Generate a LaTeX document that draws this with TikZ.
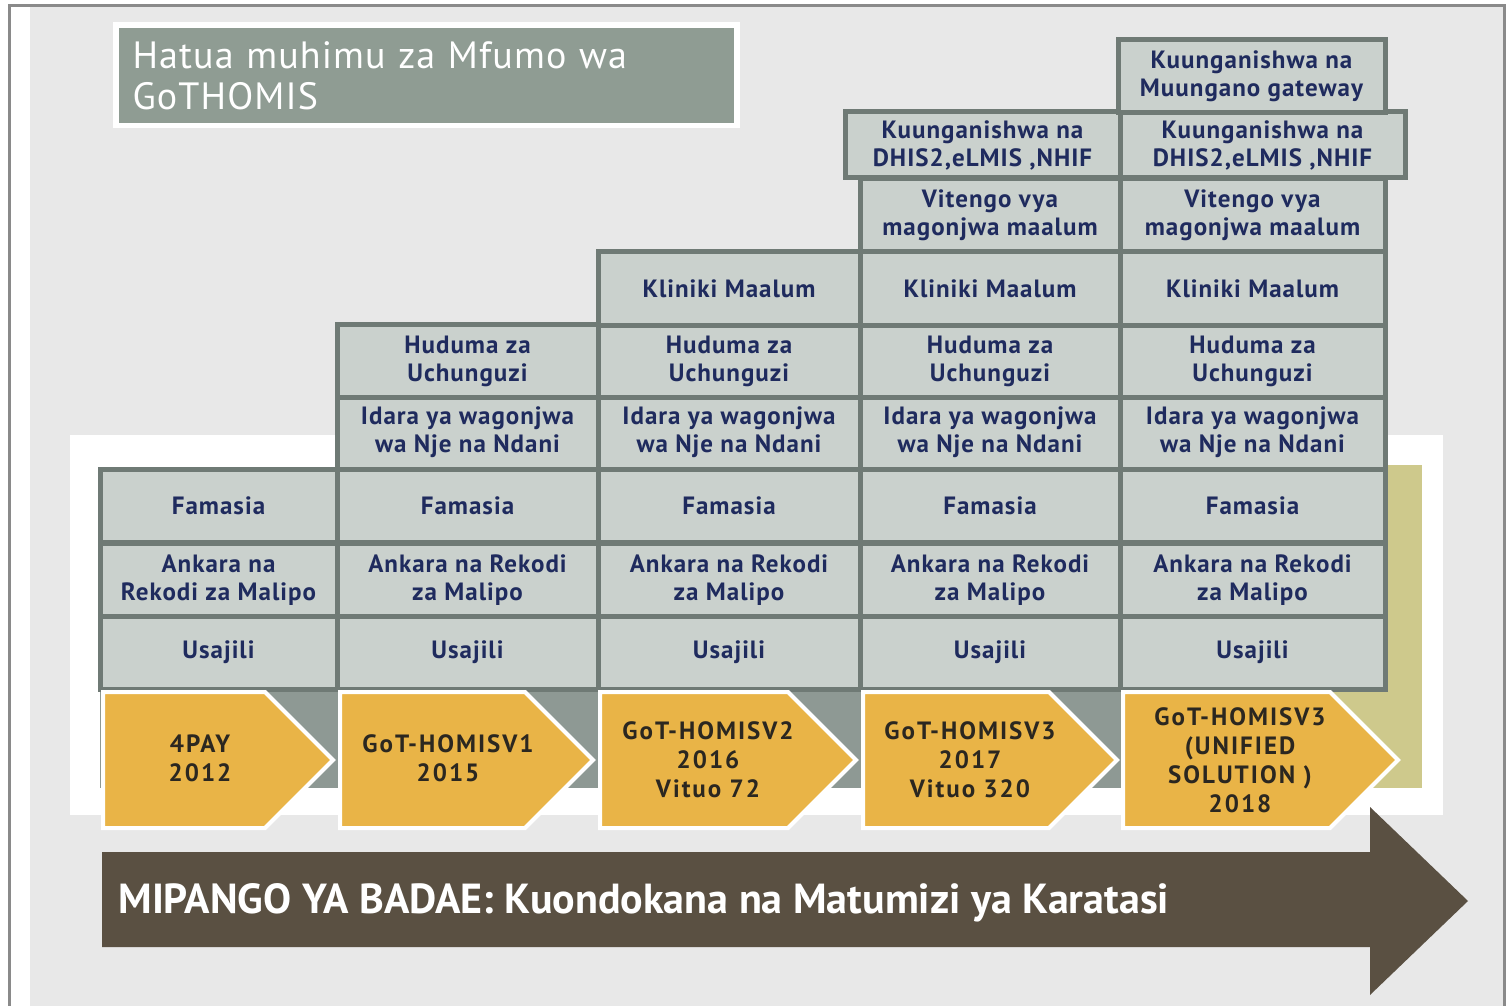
\documentclass[tikz,border=0pt]{standalone}
\usepackage{fontspec}
\setmainfont{PT Sans}
\newfontfamily\cellfont[LetterSpace=4]{PT Sans}
\newfontfamily\stagefont[LetterSpace=8]{PT Sans}
\newfontfamily\titlefont[LetterSpace=3]{PT Sans}

\definecolor{bgrey}{HTML}{E8E8E8}
\definecolor{framegrey}{HTML}{8A8A8A}
\definecolor{cellfill}{HTML}{CAD1CD}
\definecolor{celledge}{HTML}{6F7A75}
\definecolor{navy}{HTML}{1F2B5E}
\definecolor{khaki}{HTML}{CEC98C}
\definecolor{slate}{HTML}{8E9994}
\definecolor{gold}{HTML}{E9B447}
\definecolor{bark}{HTML}{5A5042}
\definecolor{titlegrey}{HTML}{8F9C93}
\definecolor{ink}{HTML}{2B2720}

\begin{document}
\begin{tikzpicture}[x=0.5pt, y=-0.5pt,
    cell/.style={draw=celledge, line width=2.5pt, fill=cellfill, text=navy,
        font=\cellfont\bfseries\fontsize{12.5}{14}\selectfont, align=center,
        inner sep=0pt, minimum height=36.5pt},
    stage/.style={draw=white, line width=2pt, fill=gold},
    stagetext/.style={text=ink, font=\stagefont\bfseries\fontsize{12.5}{14.5}\selectfont, align=center},
    title/.style={fill=titlegrey, text=white, font=\titlefont\fontsize{19}{20.5}\selectfont,
        minimum width=307.5pt, minimum height=47.5pt, text width=294pt,
        align=left, inner xsep=6.5pt}
]

\useasboundingbox (0,0) rectangle (1512,1006);
\fill[white] (0,0) rectangle (1512,1006);
\fill[bgrey] (30,7) rectangle (1504,1006);
\draw[framegrey, line width=1.5pt] (9,1006) -- (9,6) -- (1504,6) -- (1504,1006);

% backdrop behind the steps
\fill[white] (70,435) rectangle (1443,815);
\fill[khaki] (1123,465) rectangle (1422,788);
\fill[slate] (100,686) rectangle (1123,788);

% bottom rows
\node[cell, minimum width=118.5pt] (us1) at (218.5,652.5) {Usajili};
\node[cell, minimum width=130.5pt] (us2) at (467.5,652.5) {Usajili};
\node[cell, minimum width=131pt] (us3) at (729,652.5) {Usajili};
\node[cell, minimum width=130pt] (us4) at (990,652.5) {Usajili};
\node[cell, minimum width=132.5pt] (us5) at (1252.5,652.5) {Usajili};

\node[cell, minimum width=118.5pt] (an1) at (218.5,580) {Ankara na\\Rekodi za Malipo};
\node[cell, minimum width=130.5pt] (an2) at (467.5,580) {Ankara na Rekodi\\za Malipo};
\node[cell, minimum width=131pt] (an3) at (729,580) {Ankara na Rekodi\\za Malipo};
\node[cell, minimum width=130pt] (an4) at (990,580) {Ankara na Rekodi\\za Malipo};
\node[cell, minimum width=132.5pt] (an5) at (1252.5,580) {Ankara na Rekodi\\za Malipo};

\node[cell, minimum width=118.5pt] (fa1) at (218.5,505.5) {Famasia};
\node[cell, minimum width=130.5pt] (fa2) at (467.5,505.5) {Famasia};
\node[cell, minimum width=131pt] (fa3) at (729,505.5) {Famasia};
\node[cell, minimum width=130pt] (fa4) at (990,505.5) {Famasia};
\node[cell, minimum width=132.5pt] (fa5) at (1252.5,505.5) {Famasia};

% from v1
\node[cell, minimum width=130.5pt] (id2) at (467.5,432.5) {Idara ya wagonjwa\\wa Nje na Ndani};
\node[cell, minimum width=131pt] (id3) at (729,432.5) {Idara ya wagonjwa\\wa Nje na Ndani};
\node[cell, minimum width=130pt] (id4) at (990,432.5) {Idara ya wagonjwa\\wa Nje na Ndani};
\node[cell, minimum width=132.5pt] (id5) at (1252.5,432.5) {Idara ya wagonjwa\\wa Nje na Ndani};

\node[cell, minimum width=130.5pt] (hu2) at (467.5,361) {Huduma za\\Uchunguzi};
\node[cell, minimum width=131pt] (hu3) at (729,361) {Huduma za\\Uchunguzi};
\node[cell, minimum width=130pt] (hu4) at (990,361) {Huduma za\\Uchunguzi};
\node[cell, minimum width=132.5pt] (hu5) at (1252.5,361) {Huduma za\\Uchunguzi};

% from v2
\node[cell, minimum width=131pt] (kl3) at (729,288.5) {Kliniki Maalum};
\node[cell, minimum width=130pt] (kl4) at (990,288.5) {Kliniki Maalum};
\node[cell, minimum width=132.5pt] (kl5) at (1252.5,288.5) {Kliniki Maalum};

% from v3
\node[cell, minimum width=130pt] (vi4) at (990,215) {Vitengo vya\\magonjwa maalum};
\node[cell, minimum width=132.5pt] (vi5) at (1252.5,215) {Vitengo vya\\magonjwa maalum};

\node[cell, minimum width=137.5pt, minimum height=33pt] (dh4) at (982.5,145) {Kuunganishwa na\\DHIS2,eLMIS ,NHIF};
\node[cell, minimum width=142.5pt, minimum height=33pt] (dh5) at (1262.5,145) {Kuunganishwa na\\DHIS2,eLMIS ,NHIF};

\node[cell, minimum width=133.5pt] (mu5) at (1251.5,76) {Kuunganishwa na\\Muungano gateway};

% the versions
\draw[stage] (103,692) -- (265,692) -- (333,760) -- (265,828) -- (103,828) -- cycle;
\node[stagetext] (st1) at (200,758) {4PAY\\2012};
\draw[stage] (340,692) -- (525,692) -- (593,760) -- (525,828) -- (340,828) -- cycle;
\node[stagetext] (st2) at (448,758) {GoT-HOMISV1\\2015};
\draw[stage] (600,692) -- (788,692) -- (856,760) -- (788,828) -- (600,828) -- cycle;
\node[stagetext] (st3) at (708,760) {GoT-HOMISV2\\2016\\Vituo 72};
\draw[stage] (863,692) -- (1049,692) -- (1117,760) -- (1049,828) -- (863,828) -- cycle;
\node[stagetext] (st4) at (970,760) {GoT-HOMISV3\\2017\\Vituo 320};
\draw[stage] (1123,692) -- (1330,692) -- (1398,760) -- (1330,828) -- (1123,828) -- cycle;
\node[stagetext] (st5) at (1240,760) {GoT-HOMISV3\\(UNIFIED\\SOLUTION )\\2018};

% future plan
\fill[bark] (102,852) -- (1370,852) -- (1370,807) -- (1468,901) -- (1370,995) -- (1370,947) -- (102,947) -- cycle;
\node[anchor=base west, inner sep=0pt, text=white,
    font=\bfseries\fontsize{21}{24}\selectfont] (plan) at (118,913)
    {MIPANGO YA BADAE: Kuondokana na Matumizi ya Karatasi};

% title
\fill[white] (113,22) rectangle (740,128);
\node[title] (ttl) at (426.5,75.5) {Hatua muhimu za Mfumo wa\\GoTHOMIS};

\end{tikzpicture}
\end{document}
